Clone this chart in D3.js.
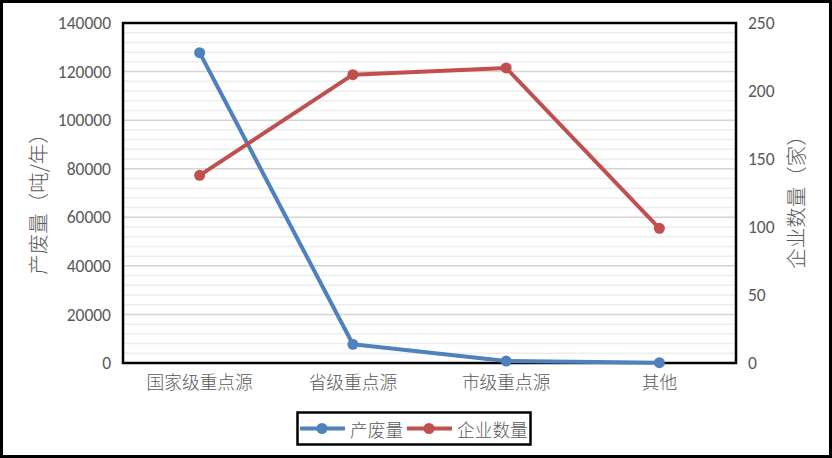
<!DOCTYPE html>
<html><head><meta charset="utf-8">
<script src="https://cdn.jsdelivr.net/npm/d3@7/dist/d3.min.js"></script>
<style>
body{margin:0;background:#fff;}
svg{display:block;}
</style></head>
<body><svg id="c" width="832" height="458"></svg>
<script>
const categories = ["国家级重点源","省级重点源","市级重点源","其他"];
const wasteValues = [127800, 7700, 800, 150];
const companyValues = [138, 212, 217, 99];
const leftTicks = [0,20000,40000,60000,80000,100000,120000,140000];
const rightTicks = [0,50,100,150,200,250];
const seriesNames = ["产废量","企业数量"];
const colors = ["#4F81BD","#C0504D"];

const svg = d3.select("#c");
const W = 832, H = 458;
const m = {l:123, r:736, t:23, b:363};
const cjk = "'Noto Sans CJK SC','Microsoft YaHei',sans-serif";
const num = "Carlito,'Liberation Sans','DejaVu Sans',sans-serif";
const txt = "#595959";

svg.append("rect").attr("x",1.5).attr("y",1.5).attr("width",W-3).attr("height",H-3)
  .attr("fill","#fff").attr("stroke","#000").attr("stroke-width",3);

const x = d3.scaleBand().domain(categories).range([m.l, m.r]);
const yL = d3.scaleLinear().domain([0,140000]).range([m.b, m.t]);
const yR = d3.scaleLinear().domain([0,250]).range([m.b, m.t]);

// minor grid
const minor = d3.range(0,140001,4000).filter(v=>v%20000!==0);
svg.append("g").selectAll("line").data(minor).join("line")
  .attr("x1",m.l).attr("x2",m.r).attr("y1",d=>yL(d)).attr("y2",d=>yL(d))
  .attr("stroke","#EDEDED").attr("stroke-width",1.5);
svg.append("g").selectAll("line").data(leftTicks).join("line")
  .attr("x1",m.l).attr("x2",m.r).attr("y1",d=>yL(d)).attr("y2",d=>yL(d))
  .attr("stroke","#D4D4D4").attr("stroke-width",1.5);

// axes
const gl = svg.append("g").attr("transform",`translate(${m.l},0)`)
  .call(d3.axisLeft(yL).tickValues(leftTicks).tickFormat(d3.format("d")).tickSize(0).tickPadding(12));
const gr = svg.append("g").attr("transform",`translate(${m.r},0)`)
  .call(d3.axisRight(yR).tickValues(rightTicks).tickFormat(d3.format("d")).tickSize(0).tickPadding(12));
const gx = svg.append("g").attr("transform",`translate(0,${m.b})`)
  .call(d3.axisBottom(x).tickSize(0).tickPadding(13));
[gl,gr,gx].forEach(g=>{g.select(".domain").remove();});
[gl,gr].forEach(g=>g.selectAll("text").attr("fill",txt).style("font-family",num).style("font-size","17.5px"));
gx.selectAll("text").attr("fill",txt).style("font-family",cjk).style("font-weight","300").style("font-size","17.7px");

// plot border
svg.append("rect").attr("x",m.l).attr("y",m.t).attr("width",m.r-m.l).attr("height",m.b-m.t)
  .attr("fill","none").attr("stroke","#000").attr("stroke-width",2.5);

// lines
const cx = d=>x(d)+x.bandwidth()/2;
const lineL = d3.line().x((d,i)=>cx(categories[i])).y(d=>yL(d));
const lineR = d3.line().x((d,i)=>cx(categories[i])).y(d=>yR(d));
svg.append("path").attr("d",lineL(wasteValues)).attr("fill","none").attr("stroke",colors[0]).attr("stroke-width",4).attr("stroke-linejoin","round");
svg.append("g").selectAll("circle").data(wasteValues).join("circle")
  .attr("cx",(d,i)=>cx(categories[i])).attr("cy",d=>yL(d)).attr("r",5.5).attr("fill",colors[0]);
svg.append("path").attr("d",lineR(companyValues)).attr("fill","none").attr("stroke",colors[1]).attr("stroke-width",4).attr("stroke-linejoin","round");
svg.append("g").selectAll("circle").data(companyValues).join("circle")
  .attr("cx",(d,i)=>cx(categories[i])).attr("cy",d=>yR(d)).attr("r",5.5).attr("fill",colors[1]);

// axis titles
svg.append("text").attr("transform","translate(37,199) rotate(-90)").attr("text-anchor","middle")
  .attr("dominant-baseline","central").attr("fill",txt).style("font-family",cjk).style("font-weight","300").style("font-size","20.5px")
  .text("产废量（吨/年）");
svg.append("text").attr("transform","translate(795,197) rotate(-90)").attr("text-anchor","middle")
  .attr("dominant-baseline","central").attr("fill",txt).style("font-family",cjk).style("font-weight","300").style("font-size","20.5px")
  .text("企业数量（家）");

// legend
svg.append("rect").attr("x",297.5).attr("y",412.5).attr("width",233).attr("height",32)
  .attr("fill","#fff").attr("stroke","#000").attr("stroke-width",2.5);
const leg = [{x:300, tx:350},{x:407, tx:457}];
leg.forEach((l,i)=>{
  svg.append("line").attr("x1",l.x).attr("x2",l.x+45).attr("y1",428.5).attr("y2",428.5)
    .attr("stroke",colors[i]).attr("stroke-width",4);
  svg.append("circle").attr("cx",l.x+22).attr("cy",428.5).attr("r",5.5).attr("fill",colors[i]);
  svg.append("text").attr("x",l.tx).attr("y",429).attr("dominant-baseline","central")
    .attr("fill",txt).style("font-family",cjk).style("font-weight","300").style("font-size","17.7px").text(seriesNames[i]);
});
</script></body></html>
